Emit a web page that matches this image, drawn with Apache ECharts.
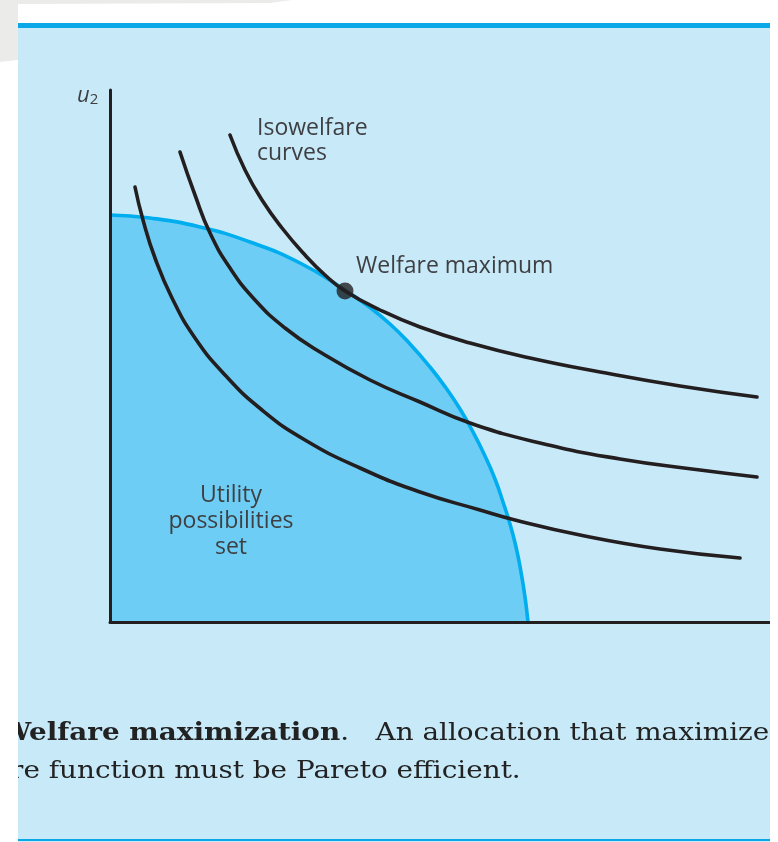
<!DOCTYPE html>
<html><head><meta charset="utf-8">
<script src="https://cdn.jsdelivr.net/npm/echarts@6/dist/echarts.min.js"></script>
<style>html,body{margin:0;padding:0;background:#fff}#c{width:778px;height:842px}</style>
</head><body><div id="c"></div>
<script>
// Data in plot units (x: u1, y: u2)
const frontier = [[0,407],[40,404],[90,395],[140,380],[190,359],[235,332],[258,316],[280,298],[300,278],[320,255],[336,234],[350,213],[363,190],[375,166],[385,143],[393,120],[400,98],[406,75],[411,50],[415,25],[418,0]];
const isoHigh = [[120,487],[135,452],[152,422],[172,394],[195,367],[215,347],[235,331],[270,312],[310,295],[360,279],[420,264],[490,250],[570,236],[647,225]];
const isoMid = [[70,470],[85,427],[100,389],[120,354],[145,322],[175,294],[210,270],[260,242],[310,220],[360,199],[430,179],[510,163],[590,152],[647,145]];
const isoLow = [[25,435],[33,402],[45,364],[62,324],[85,284],[115,247],[152,212],[195,182],[250,154],[310,130],[370,112],[405,102],[470,87],[550,73],[630,64]];
const optimum = [[235,331]];
const labels = {
  iso: 'Isowelfare\ncurves',
  max: 'Welfare maximum',
  set: 'Utility\npossibilities\nset'
};

const chart = echarts.init(document.getElementById('c'), null, {renderer:'canvas'});
const ink = '#231f20';
const lab = '#3e3f42';
const sans = '"Open Sans", "Noto Sans", sans-serif';
const serif = '"DejaVu Serif", serif';
const curveStyle = {color: ink, width: 3.6, cap: 'round'};
function iso(d){
  return {type:'line', data:d, smooth:0.5, symbol:'none', lineStyle:curveStyle, z:5, silent:true};
}
chart.setOption({
  animation:false,
  backgroundColor:'#ffffff',
  grid:{left:110, top:90, width:660, height:532},
  xAxis:{type:'value', min:0, max:660, z:10, axisLine:{show:true, lineStyle:{color:ink, width:3}}, axisTick:{show:false}, axisLabel:{show:false}, splitLine:{show:false}},
  yAxis:{type:'value', min:0, max:532, z:10, axisLine:{show:true, lineStyle:{color:ink, width:3}}, axisTick:{show:false}, axisLabel:{show:false}, splitLine:{show:false}},
  series:[
    {type:'line', data:frontier, smooth:0.5, symbol:'none', lineStyle:{color:'#00aeef', width:3.6}, areaStyle:{color:'#6dcdf4', opacity:1}, z:3, silent:true},
    iso(isoLow), iso(isoMid), iso(isoHigh),
    {type:'scatter', data:optimum, symbolSize:17, itemStyle:{color:ink}, z:6, silent:true}
  ],
  graphic:[
    {type:'polygon', shape:{points:[[0,0],[292,0],[270,3],[18,4],[18,60],[0,62]]}, style:{fill:'#ebebea'}, z:-10, silent:true},
    {type:'rect', shape:{x:18, y:23, width:752, height:819}, style:{fill:'#c7e9f8'}, z:-10, silent:true},
    {type:'rect', shape:{x:18, y:23, width:752, height:5}, style:{fill:'#0aa8e6'}, z:-9, silent:true},
    {type:'rect', shape:{x:18, y:839, width:752, height:2}, style:{fill:'#0aa8e6'}, z:-9, silent:true},
    {type:'text', left:77, top:85, style:{text:'{a|u}{b|2}', rich:{a:{fontFamily:sans, fontStyle:'italic', fontSize:22, fill:lab}, b:{fontFamily:sans, fontSize:15, fill:lab, padding:[8,0,0,0]}}}, z:10},
    {type:'text', left:257, top:116, style:{text:labels.iso, fontFamily:sans, fontSize:23, lineHeight:25, fill:lab}, z:10},
    {type:'text', left:356, top:255, style:{text:labels.max, fontFamily:sans, fontSize:23, fill:lab}, z:10},
    {type:'text', x:231, y:482, style:{text:labels.set, fontFamily:sans, fontSize:23, lineHeight:26, fill:lab, align:'center', verticalAlign:'top'}, z:10},
    {type:'text', x:0, y:722, scaleX:1.16, style:{text:'{b|Welfare maximization}{r|.   An allocation that maximizes}', rich:{b:{fontFamily:serif, fontWeight:'bold', fontSize:24, fill:'#222'}, r:{fontFamily:serif, fontSize:24, fill:'#222'}}, verticalAlign:'top'}, z:20},
    {type:'text', x:-66, y:760, scaleX:1.16, style:{text:'welfare function must be Pareto efficient.', fontFamily:serif, fontSize:24, fill:'#222', verticalAlign:'top'}, z:20},
    {type:'rect', shape:{x:0, y:62, width:18, height:780}, style:{fill:'#ffffff'}, z:30, silent:true},
    {type:'rect', shape:{x:770, y:0, width:8, height:842}, style:{fill:'#ffffff'}, z:30, silent:true}
  ]
});
</script></body></html>
